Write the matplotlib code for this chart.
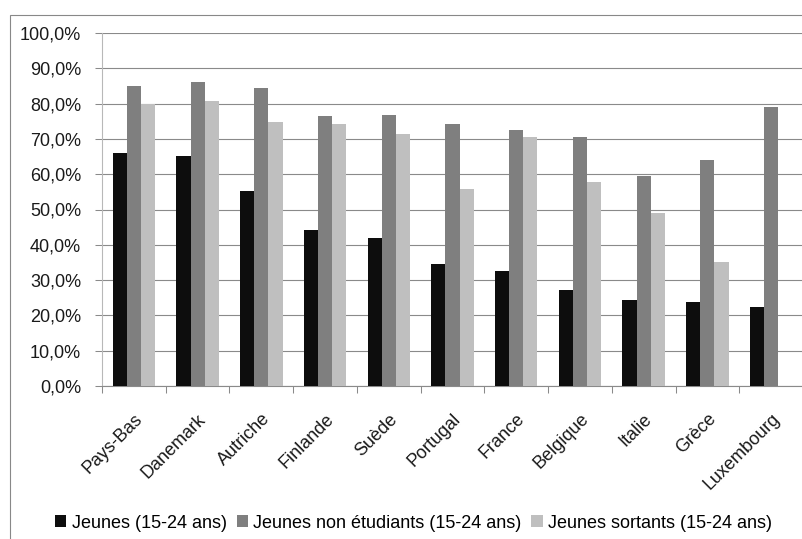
import numpy as np
import matplotlib
matplotlib.use("Agg")
import matplotlib.pyplot as plt
from matplotlib.patches import Rectangle
from matplotlib.ticker import FuncFormatter, FixedLocator
from matplotlib.transforms import ScaledTranslation

plt.rcParams["font.family"] = ["Liberation Sans", "DejaVu Sans"]

# --- DONNÉES ---
pays = ["Pays-Bas", "Danemark", "Autriche", "Finlande", "Suède", "Portugal",
        "France", "Belgique", "Italie", "Grèce", "Luxembourg"]
jeunes = [65.9, 65.2, 55.3, 44.3, 41.9, 34.7, 32.5, 27.2, 24.4, 23.7, 22.3]
non_etudiants = [85.0, 86.2, 84.3, 76.6, 76.9, 74.1, 72.5, 70.6, 59.5, 64.1, 79.0]
sortants = [80.0, 80.7, 74.7, 74.3, 71.5, 55.9, 70.5, 57.9, 49.0, 35.0, np.nan]

series = [
    ("Jeunes (15-24 ans)", jeunes, "#0d0d0d"),
    ("Jeunes non étudiants (15-24 ans)", non_etudiants, "#7f7f7f"),
    ("Jeunes sortants (15-24 ans)", sortants, "#bfbfbf"),
]

W, H = 802, 539
fig = plt.figure(figsize=(W / 100, H / 100), dpi=100)

# cadre gris du graphique
fig.patches.append(Rectangle((10 / W, -0.1), 2.0, (H - 15) / H + 0.1,
                             transform=fig.transFigure, fill=False,
                             edgecolor="#888888", linewidth=0.8))

ax = fig.add_axes([102 / W, (H - 386) / H, 701 / W, 353 / H])

x = np.arange(len(pays))
largeur = 0.222
for i, (nom, valeurs, couleur) in enumerate(series):
    ax.bar(x + (i - 1) * largeur, valeurs, largeur, color=couleur,
           label=nom, zorder=3)

ax.set_xlim(-0.5, len(pays) - 0.5)
ax.set_ylim(0, 100)

# axe Y
ax.set_yticks(np.arange(0, 101, 10))
ax.yaxis.set_major_formatter(
    FuncFormatter(lambda v, _: f"{v:.1f}%".replace(".", ",")))
ax.tick_params(axis="y", direction="out", length=5, width=0.75,
               color="#8a8a8a", pad=10, labelsize=13, labelcolor="#1a1a1a")
ax.grid(axis="y", color="#8a8a8a", linewidth=0.8, zorder=0)
ax.set_axisbelow(True)

# axe X : graduations entre catégories, libellés au centre
ax.set_xticks(x)
ax.xaxis.set_minor_locator(FixedLocator(np.arange(-0.5, len(pays), 1.0)))
ax.tick_params(axis="x", which="major", length=0, pad=22)
ax.tick_params(axis="x", which="minor", direction="out", length=5,
               width=0.75, color="#8a8a8a")
ax.set_xticklabels(pays, rotation=45, ha="right", va="center",
                   rotation_mode="anchor", fontsize=13, color="#1a1a1a")
decalage = ScaledTranslation(0.06, 0, fig.dpi_scale_trans)
for lbl in ax.get_xticklabels():
    lbl.set_transform(lbl.get_transform() + decalage)

for cote in ("top", "right"):
    ax.spines[cote].set_visible(False)
ax.spines["left"].set_color("#b8b8b8")
ax.spines["left"].set_linewidth(0.8)
ax.spines["bottom"].set_color("#8a8a8a")
ax.spines["bottom"].set_linewidth(0.8)

fig.legend(loc="center", bbox_to_anchor=(413.5 / W, 16 / H), ncol=3,
           frameon=False, fontsize=13, handlelength=0.62, handleheight=0.62,
           handletextpad=0.3, columnspacing=0.55, borderaxespad=0)

fig.savefig("out.png", dpi=100)
